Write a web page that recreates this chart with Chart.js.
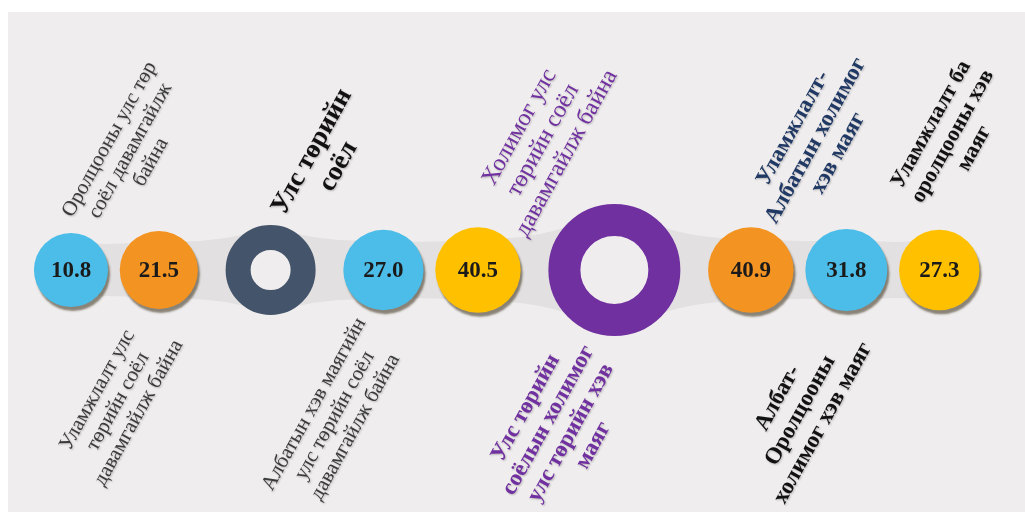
<!DOCTYPE html>
<html>
<head>
<meta charset="utf-8">
<script src="https://cdn.jsdelivr.net/npm/chart.js@4.4.1/dist/chart.umd.min.js"></script>
<style>
    body { margin: 0; background: #fff; }
    #wrap { position: absolute; left: 8px; top: 12px; width: 1017px; height: 500px; background: #efeded; }
</style>
</head>
<body>
<div id="wrap"><canvas id="chart"></canvas></div>
<script>
// one node per category, the label lines are the text shown next to it
const categories = [
    ['Оролцооны улс төр', 'соёл давамгайлж', 'байна'],
    ['Уламжлалт улс', 'төрийн соёл', 'давамгайлж байна'],
    ['Улс төрийн', 'соёл'],
    ['Албатын хэв маягийн', 'улс төрийн соёл', 'давамгайлж байна'],
    ['Холимог улс', 'төрийн соёл', 'давамгайлж байна'],
    ['Улс төрийн', 'соёлын холимог', 'улс төрийн хэв', 'маяг'],
    ['Уламжлалт-', 'Албатын холимог', 'хэв маяг'],
    ['Албат-', 'Оролцооны', 'холимог хэв маяг'],
    ['Уламжлалт ба', 'оролцооны хэв', 'маяг']
]
// null = group heading (drawn as a ring)
const values = [10.8, 21.5, null, 27.0, 40.5, null, 40.9, 31.8, 27.3]

// styles
const panel = '#efeded'
const nodeColors = ['#4BBDE8', '#F39322', '#44546A', '#4BBDE8', '#FFC000', '#7030A0', '#F39322', '#4BBDE8', '#FFC000']
const textColors = ['#3a3a3a', '#3a3a3a', '#111111', '#3a3a3a', '#7030A0', '#7030A0', '#1F3864', '#111111', '#111111']
const textFonts = [
    '21px "Liberation Serif"', '21px "Liberation Serif"', 'bold 27px "Liberation Serif"',
    '21px "Liberation Serif"', '24px "Liberation Serif"', 'bold 23px "Liberation Serif"',
    'bold 23px "Liberation Serif"', 'bold 23px "Liberation Serif"', 'bold 22px "Liberation Serif"'
]
const ringSize = { 2: [45, 20], 5: [66, 34] }
const angle = -61 * Math.PI / 180

const isRing = i => values[i] == null
const radius = i => isRing(i) ? ringSize[i][0] : 35 + 0.19 * values[i]

// place nodes left to right, a wider gap next to a ring
let xPos = []
categories.forEach((c, i) => {
    if (i == 0) return xPos.push(63)
    const gap = (isRing(i) || isRing(i - 1)) ? 27.7 : 11.7
    xPos.push(xPos[i - 1] + radius(i - 1) + radius(i) + gap)
})

const circleData = []
const ringData = []
categories.forEach((c, i) => (isRing(i) ? ringData : circleData).push({ x: xPos[i], y: 0, i: i }))

const nodePx = chart => {
    const sx = chart.scales.x
    const sy = chart.scales.y
    return xPos.map(x => ({ x: sx.getPixelForValue(x), y: sy.getPixelForValue(0) }))
}

const infoPlugin = {
    id: 'info',
    beforeDatasetsDraw(chart) {
        const ctx = chart.ctx
        const pts = nodePx(chart)
        ctx.save()
        ctx.fillStyle = '#e2e0e0'
        for (let i = 0; i < pts.length - 1; i++) {
            const a = pts[i], b = pts[i + 1]
            const ha = radius(i) * (isRing(i) ? 0.95 : 0.75)
            const hb = radius(i + 1) * (isRing(i + 1) ? 0.95 : 0.75)
            const hm = Math.min(ha, hb) * 0.85
            const mx = (a.x + b.x) / 2
            ctx.beginPath()
            ctx.moveTo(a.x, a.y - ha)
            ctx.quadraticCurveTo(mx, a.y - hm, b.x, b.y - hb)
            ctx.lineTo(b.x, b.y + hb)
            ctx.quadraticCurveTo(mx, a.y + hm, a.x, a.y + ha)
            ctx.closePath()
            ctx.fill()
        }
        ctx.restore()
    },
    beforeDatasetDraw(chart, args) {
        if (args.index != 0) return
        const ctx = chart.ctx
        ctx.save()
        ctx.shadowColor = 'rgba(70,60,40,0.6)'
        ctx.shadowOffsetX = 2
        ctx.shadowOffsetY = 4
        ctx.shadowBlur = 2
    },
    afterDatasetDraw(chart, args) {
        if (args.index == 0) chart.ctx.restore()
    },
    afterDatasetsDraw(chart) {
        const ctx = chart.ctx
        const pts = nodePx(chart)
        const u = { x: Math.cos(angle), y: Math.sin(angle) }
        const n = { x: -Math.sin(angle), y: Math.cos(angle) }

        ctx.save()
        ctx.textAlign = 'center'
        ctx.textBaseline = 'middle'
        ctx.fillStyle = '#1a1a1a'
        ctx.font = 'bold 23px "Liberation Serif"'
        values.forEach((v, i) => {
            if (v != null) ctx.fillText(v.toFixed(1), pts[i].x, pts[i].y + 1)
        })

        ctx.shadowColor = 'rgba(0,0,0,0.25)'
        ctx.shadowOffsetX = 1
        ctx.shadowOffsetY = 1
        ctx.shadowBlur = 2
        categories.forEach((lines, i) => {
            ctx.font = textFonts[i]
            ctx.fillStyle = textColors[i]
            const size = parseFloat(textFonts[i].match(/(\d+)px/)[1])
            const lineH = size * 1.12
            const maxW = Math.max(...lines.map(l => ctx.measureText(l).width))
            const top = i % 2 == 0
            const dist = radius(i) + (top ? 9 : 14) + maxW / 2
            const side = top ? 1 : -1
            let perp = top ? -6 : 28
            let cx = pts[i].x + side * u.x * dist + n.x * perp
            let cy = pts[i].y + side * u.y * dist + n.y * perp
            // keep the block inside the canvas on the right
            const right = cx + Math.abs(u.x) * maxW / 2 + n.x * lines.length * lineH / 2
            const over = right - (chart.width - 4)
            if (over > 0) {
                cx -= n.x * over / n.x
                cy -= n.y * over / n.x
            }
            ctx.save()
            ctx.translate(cx, cy)
            ctx.rotate(angle)
            lines.forEach((l, k) => ctx.fillText(l, 0, (k - (lines.length - 1) / 2) * lineH))
            ctx.restore()
        })
        ctx.restore()
    }
}

new Chart(document.getElementById('chart'), {
    type: 'scatter',
    data: {
        datasets: [{
            data: circleData,
            pointRadius: c => radius(c.raw.i),
            pointBackgroundColor: c => nodeColors[c.raw.i],
            pointBorderWidth: 0,
            pointHoverRadius: c => radius(c.raw.i)
        }, {
            data: ringData,
            pointRadius: c => (ringSize[c.raw.i][0] + ringSize[c.raw.i][1]) / 2,
            pointBorderWidth: c => ringSize[c.raw.i][0] - ringSize[c.raw.i][1],
            pointBorderColor: c => nodeColors[c.raw.i],
            pointBackgroundColor: panel
        }]
    },
    options: {
        responsive: true,
        maintainAspectRatio: false,
        animation: false,
        events: [],
        layout: { autoPadding: false, padding: { top: 16, left: 0, right: 0, bottom: 0 } },
        plugins: { legend: { display: false }, tooltip: { enabled: false } },
        scales: {
            x: { type: 'linear', min: 0, max: 1017, display: false },
            y: { min: -1, max: 1, display: false }
        }
    },
    plugins: [infoPlugin]
})
</script>
</body>
</html>
